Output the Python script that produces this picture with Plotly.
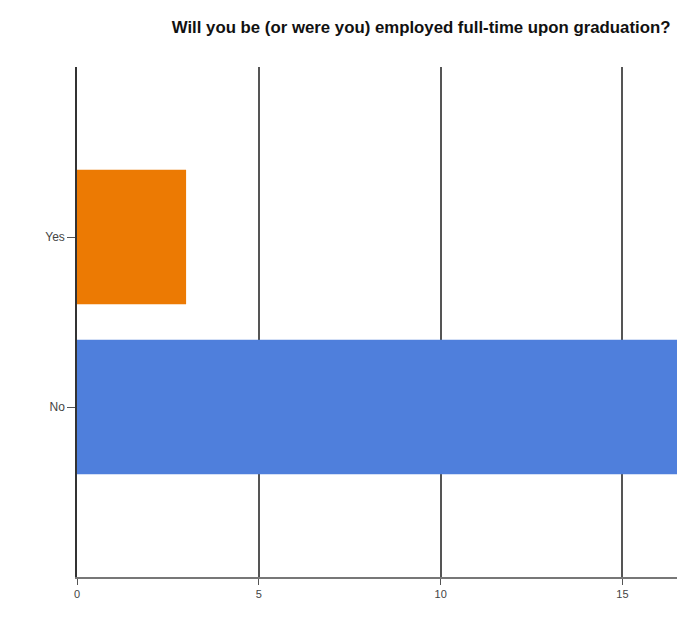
import plotly.graph_objects as go

categories = ["No", "Yes"]
values = [18, 3]
colors = ["#4f7fdc", "#ec7a03"]
x_ticks = [0, 5, 10, 15]
title = "Will you be (or were you) employed full-time upon graduation?"

fig = go.Figure()
fig.add_trace(go.Bar(
    y=categories, x=values, orientation="h",
    width=0.79,
    marker=dict(color=colors, line=dict(width=0)),
    showlegend=False,
))

fig.update_layout(
    width=677, height=625,
    margin=dict(l=77, r=0, t=67, b=48),
    paper_bgcolor="white", plot_bgcolor="white",
    font=dict(family="Arial, Liberation Sans, sans-serif", size=12, color="#444"),
    title=dict(text="<b>" + title + "</b>", x=0.622, xanchor="center",
               y=1 - 27 / 625, yanchor="middle",
               font=dict(size=16.8, color="#111", family="Arial, Liberation Sans, sans-serif")),
    bargap=0.2,
)
fig.update_xaxes(
    range=[0, 16.5], tickvals=x_ticks, ticks="outside", ticklen=6, tickcolor="#555",
    showgrid=True, gridcolor="#555", gridwidth=1.5, zeroline=False,
    showline=True, linecolor="#777", linewidth=2, tickfont=dict(size=11),
)
fig.update_yaxes(
    range=[-1, 2], ticks="outside", ticklen=8, tickcolor="#555",
    showgrid=False, showline=True, linecolor="#333", linewidth=1.5,
)
fig.write_html("out.html")
